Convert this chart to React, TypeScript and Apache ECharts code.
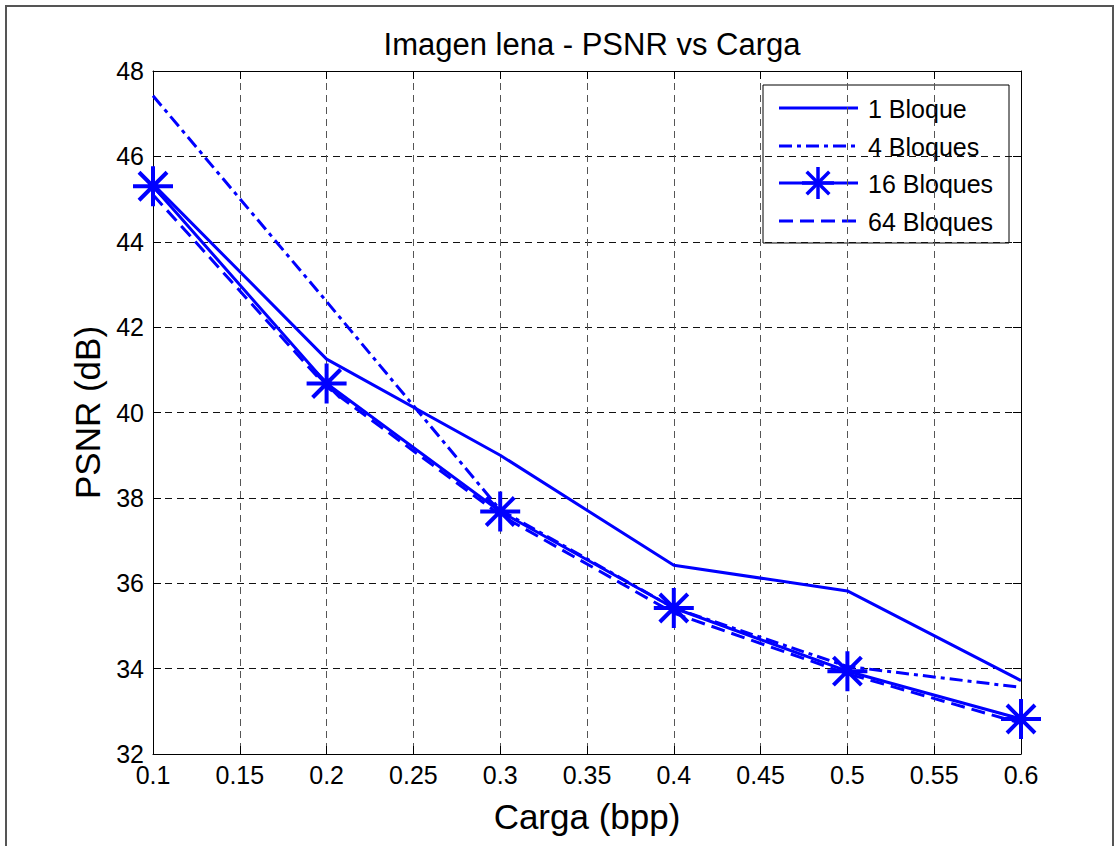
import React, { useEffect, useRef } from "react";
import * as echarts from "echarts";

const cargas = [0.1, 0.2, 0.3, 0.4, 0.5, 0.6];
const bloque1 = [45.35, 41.25, 39.0, 36.42, 35.82, 33.72];
const bloques4 = [47.42, 42.6, 37.72, 35.42, 34.05, 33.56];
const bloques16 = [45.3, 40.68, 37.68, 35.42, 33.94, 32.82];
const bloques64 = [45.1, 40.6, 37.6, 35.3, 33.88, 32.72];
const seriesNames = ["1 Bloque", "4 Bloques", "16 Bloques", "64 Bloques"];
const titleText = "Imagen lena - PSNR vs Carga";
const xName = "Carga (bpp)";
const yName = "PSNR (dB)";

const FONT = "'Liberation Sans', Arial, Helvetica, sans-serif";
const BLUE = "#0000ff";
const STAR = "path://M0,-20L0,20M-20,0L20,0M-14,-14L14,14M-14,14L14,-14";
const DASHDOT = [13, 5, 4, 5];
const DASHED = [14, 7];

const pairs = (vals: number[]) => cargas.map((x, i) => [x, vals[i]]);

function legendGraphic() {
  const boxX = 763, boxY = 85, boxW = 246, boxH = 158;
  const rows = [108, 146, 183, 221];
  const lineX1 = 779, lineX2 = 858, textX = 868;
  const dashes: any[] = [null, DASHDOT, null, DASHED];
  const children: any[] = [
    {
      type: "rect",
      shape: { x: boxX, y: boxY, width: boxW, height: boxH },
      style: { fill: "#fff", stroke: "#000", lineWidth: 1 },
    },
  ];
  rows.forEach((y, i) => {
    children.push({
      type: "line",
      shape: { x1: lineX1, y1: y, x2: lineX2, y2: y },
      style: { stroke: BLUE, lineWidth: 3, lineDash: dashes[i] },
    });
    children.push({
      type: "text",
      x: textX,
      y: y + 1,
      style: {
        text: seriesNames[i],
        fontFamily: FONT,
        fontSize: 25,
        fill: "#000",
        verticalAlign: "middle",
        align: "left",
      },
    });
  });
  // star marker for 16 Bloques
  const cx = 818, cy = rows[2], r = 16, d = 11.3;
  const segs = [
    [cx, cy - r, cx, cy + r],
    [cx - r, cy, cx + r, cy],
    [cx - d, cy - d, cx + d, cy + d],
    [cx - d, cy + d, cx + d, cy - d],
  ];
  segs.forEach((s) =>
    children.push({
      type: "line",
      shape: { x1: s[0], y1: s[1], x2: s[2], y2: s[3] },
      style: { stroke: BLUE, lineWidth: 3.5 },
    })
  );
  return { type: "group", silent: true, z: 100, children };
}

export default function App() {
  const ref = useRef<HTMLDivElement>(null);
  useEffect(() => {
    if (!ref.current) return;
    const chart = echarts.init(ref.current, undefined, { renderer: "svg" });
    const gridL = 153, gridT = 71, gridR = 99, gridB = 92;
    const axisCommon = {
      axisLine: { show: true, lineStyle: { color: "#000", width: 1 } },
      axisTick: { show: true, inside: true, length: 8, lineStyle: { color: "#000" } },
    };
    chart.setOption({
      animation: false,
      backgroundColor: "#fff",
      title: {
        text: titleText,
        left: 587,
        top: 24,
        textAlign: "center",
        textStyle: { fontFamily: FONT, fontSize: 31, fontWeight: "normal", color: "#000" },
      },
      grid: { left: gridL, top: gridT, right: gridR, bottom: gridB, show: false },
      xAxis: [
        {
          type: "value",
          min: 0.1,
          max: 0.6,
          interval: 0.05,
          position: "bottom",
          name: xName,
          nameLocation: "middle",
          nameGap: 45,
          nameTextStyle: { fontFamily: FONT, fontSize: 35, color: "#000" },
          ...axisCommon,
          axisLabel: {
            fontFamily: FONT,
            fontSize: 25,
            color: "#000",
            margin: 8,
            formatter: (v: number) => String(Math.round(v * 100) / 100),
          },
          splitLine: { show: true, lineStyle: { color: "#555", width: 1, type: [7, 5] } },
        },
        {
          type: "value",
          min: 0.1,
          max: 0.6,
          interval: 0.05,
          position: "top",
          ...axisCommon,
          axisLabel: { show: false },
          splitLine: { show: false },
        },
      ],
      yAxis: [
        {
          type: "value",
          min: 32,
          max: 48,
          interval: 2,
          position: "left",
          name: yName,
          nameLocation: "middle",
          nameGap: 46,
          nameTextStyle: { fontFamily: FONT, fontSize: 35, color: "#000" },
          ...axisCommon,
          axisLabel: { fontFamily: FONT, fontSize: 25, color: "#000", margin: 9 },
          splitLine: { show: true, lineStyle: { color: "#111", width: 1, type: [7, 5] } },
        },
        {
          type: "value",
          min: 32,
          max: 48,
          interval: 2,
          position: "right",
          ...axisCommon,
          axisLabel: { show: false },
          splitLine: { show: false },
        },
      ],
      graphic: [
        {
          type: "rect",
          shape: { x: 6, y: 6, width: 1107, height: 860 },
          style: { fill: "none", stroke: "#555", lineWidth: 2 },
          silent: true,
          z: -10,
        },
        legendGraphic(),
      ],
      series: [
        {
          name: seriesNames[0],
          type: "line",
          data: pairs(bloque1),
          symbol: "none",
          silent: true,
          lineStyle: { color: BLUE, width: 3, type: "solid" },
          itemStyle: { color: BLUE },
          z: 2,
        },
        {
          name: seriesNames[1],
          type: "line",
          data: pairs(bloques4),
          symbol: "none",
          silent: true,
          lineStyle: { color: BLUE, width: 3, type: DASHDOT },
          itemStyle: { color: BLUE },
          z: 3,
        },
        {
          name: seriesNames[2],
          type: "line",
          data: pairs(bloques16),
          symbol: STAR,
          symbolSize: 40,
          silent: true,
          lineStyle: { color: BLUE, width: 3, type: "solid" },
          itemStyle: { color: BLUE, borderColor: BLUE, borderWidth: 4 },
          z: 4,
        },
        {
          name: seriesNames[3],
          type: "line",
          data: pairs(bloques64),
          symbol: "none",
          silent: true,
          lineStyle: { color: BLUE, width: 3, type: DASHED },
          itemStyle: { color: BLUE },
          z: 5,
        },
      ],
    });
    return () => chart.dispose();
  }, []);
  return (
    <div
      ref={ref}
      style={{ position: "absolute", left: 0, top: 0, width: 1120, height: 846, background: "#fff" }}
    />
  );
}
